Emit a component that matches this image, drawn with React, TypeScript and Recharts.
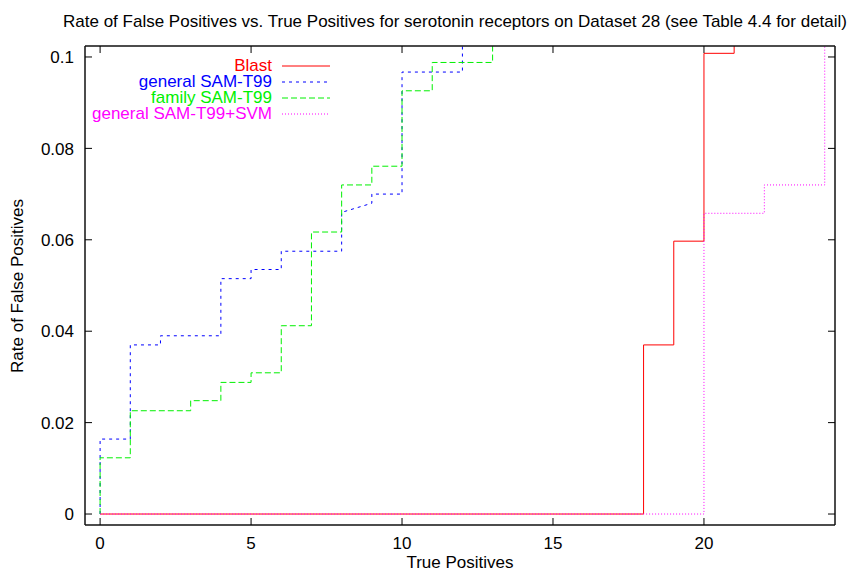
import React from 'react';
import { LineChart, Line, XAxis, YAxis, Legend, Label } from 'recharts';

// step curves (x = true positives, y = false-positive rate)
const blastX = [0, 18, 18, 19, 19, 20, 20, 21, 21];
const blastY = [0, 0, 0.037, 0.037, 0.0597, 0.0597, 0.1008, 0.1008, 0.12];

const generalX = [0, 0, 1, 1, 2, 2, 4, 4, 5, 5, 6, 6, 8, 8, 9, 9, 10, 10, 12, 12];
const generalY = [0, 0.0164, 0.0164, 0.037, 0.037, 0.039, 0.039, 0.0515, 0.0515, 0.0535, 0.0535, 0.0575, 0.0575, 0.066, 0.068, 0.07, 0.07, 0.0967, 0.0967, 0.12];

const familyX = [0, 0, 1, 1, 3, 3, 4, 4, 5, 5, 6, 6, 7, 7, 8, 8, 9, 9, 10, 10, 11, 11, 13, 13];
const familyY = [0, 0.0123, 0.0123, 0.0226, 0.0226, 0.0248, 0.0248, 0.0288, 0.0288, 0.0309, 0.0309, 0.0412, 0.0412, 0.0617, 0.0617, 0.072, 0.072, 0.0761, 0.0761, 0.0926, 0.0926, 0.0988, 0.0988, 0.12];

const svmX = [0, 20, 20, 22, 22, 24, 24];
const svmY = [0, 0, 0.0658, 0.0658, 0.072, 0.072, 0.12];

const xTicks = [0, 5, 10, 15, 20];
const yTicks = [0, 0.02, 0.04, 0.06, 0.08, 0.1];

const title = 'Rate of False Positives vs. True Positives for serotonin receptors on Dataset 28 (see Table 4.4 for detail)';
const FONT = '"Liberation Sans", Arial, Helvetica, sans-serif';
const FS = 17;

const toPoints = (xs: number[], ys: number[]) => xs.map((x, i) => ({ x, y: ys[i] }));

const series = [
    { name: 'Blast', color: '#ff0000', dash: undefined, data: toPoints(blastX, blastY) },
    { name: 'general SAM-T99', color: '#0000ff', dash: '3 4', data: toPoints(generalX, generalY) },
    { name: 'family SAM-T99', color: '#00f000', dash: '6 3', data: toPoints(familyX, familyY) },
    { name: 'general SAM-T99+SVM', color: '#ff00ff', dash: '1 2', data: toPoints(svmX, svmY) },
];

const TICK = 7;

const BottomTick = ({ x, y, payload }: any) => (
    <g>
        <line x1={x} y1={y} x2={x} y2={y - TICK} stroke="#000" />
        <text x={x} y={y + 24} textAnchor="middle" fontSize={FS} fontFamily={FONT} fill="#000">{payload.value}</text>
    </g>
);
const TopTick = ({ x, y }: any) => <line x1={x} y1={y} x2={x} y2={y + TICK} stroke="#000" />;
const LeftTick = ({ x, y, payload }: any) => (
    <g>
        <line x1={x} y1={y} x2={x + TICK} y2={y} stroke="#000" />
        <text x={x - 11} y={y} dy="0.36em" textAnchor="end" fontSize={FS} fontFamily={FONT} fill="#000">{payload.value}</text>
    </g>
);
const RightTick = ({ x, y }: any) => <line x1={x} y1={y} x2={x - TICK} y2={y} stroke="#000" />;

const renderLegend = () => (
    <div style={{ fontFamily: FONT, fontSize: FS }}>
        {series.map(s => (
            <div key={s.name} style={{ display: 'flex', alignItems: 'center', height: 16, lineHeight: '16px' }}>
                <span style={{ width: 272, textAlign: 'right', color: s.color, whiteSpace: 'nowrap' }}>{s.name}</span>
                <svg width={60} height={16}>
                    <line x1={10} x2={58} y1={8} y2={8} stroke={s.color} strokeDasharray={s.dash} />
                </svg>
            </div>
        ))}
    </div>
);

export default function App() {
    const axisLine = { stroke: '#111', strokeWidth: 1.5 };
    return (
        <div style={{ position: 'absolute', left: 0, top: 0, width: 851, height: 573, background: '#fff' }}>
            <LineChart width={851} height={573} margin={{ top: 45, right: 15, bottom: 0, left: 0 }}>
                <XAxis xAxisId="bottom" type="number" dataKey="x" domain={[-0.5, 24.34]} allowDataOverflow
                    ticks={xTicks} tickSize={0} tickMargin={0} tick={<BottomTick />} tickLine={false}
                    axisLine={axisLine} height={48}>
                    <Label content={() => (
                        <text x={460} y={568} textAnchor="middle" fontSize={FS} fontFamily={FONT} fill="#000">True Positives</text>
                    )} />
                </XAxis>
                <XAxis xAxisId="top" orientation="top" type="number" dataKey="x" domain={[-0.5, 24.34]} allowDataOverflow
                    ticks={xTicks} tickSize={0} tickMargin={0} tick={<TopTick />} tickLine={false}
                    axisLine={axisLine} height={1}>
                    <Label content={() => (
                        <text x={847} y={27} textAnchor="end" fontSize={FS} fontFamily={FONT} fill="#000">{title}</text>
                    )} />
                </XAxis>
                <YAxis yAxisId="left" type="number" dataKey="y" domain={[-0.0024, 0.1024]} allowDataOverflow
                    ticks={yTicks} tickSize={0} tickMargin={0} tick={<LeftTick />} tickLine={false}
                    axisLine={axisLine} width={85}>
                    <Label content={() => (
                        <text x={23} y={286} transform="rotate(-90, 23, 286)" textAnchor="middle" fontSize={FS} fontFamily={FONT} fill="#000">Rate of False Positives</text>
                    )} />
                </YAxis>
                <YAxis yAxisId="right" orientation="right" type="number" dataKey="y" domain={[-0.0024, 0.1024]} allowDataOverflow
                    ticks={yTicks} tickSize={0} tickMargin={0} tick={<RightTick />} tickLine={false}
                    axisLine={axisLine} width={1} />
                <Legend layout="vertical" align="center" verticalAlign="middle"
                    content={renderLegend} wrapperStyle={{ left: 0, top: 58, width: 340 }} />
                {series.map(s => (
                    <Line key={s.name} xAxisId="bottom" yAxisId="left" data={s.data} dataKey="y" name={s.name}
                        type="linear" stroke={s.color} strokeWidth={1} strokeDasharray={s.dash}
                        dot={false} activeDot={false} isAnimationActive={false} />
                ))}
            </LineChart>
        </div>
    );
}
